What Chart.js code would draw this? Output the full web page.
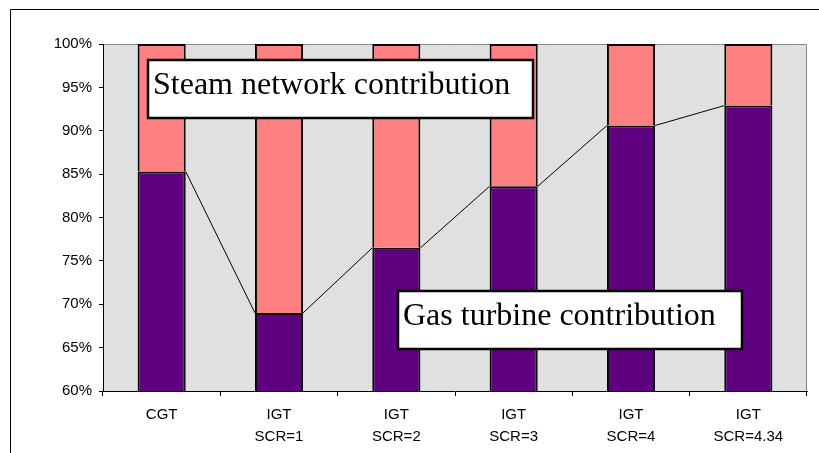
<!DOCTYPE html>
<html lang="en">
<head>
    <meta charset="UTF-8">
    <title>Gas turbine vs steam network contribution</title>
    <script src="https://cdn.jsdelivr.net/npm/chart.js"></script>
    <style>
        body { margin: 0; background: #fff; }
    </style>
</head>
<body>
    <canvas id="chart" width="819" height="453"></canvas>
    <script>
        const categories = [['CGT'], ['IGT', 'SCR=1'], ['IGT', 'SCR=2'], ['IGT', 'SCR=3'], ['IGT', 'SCR=4'], ['IGT', 'SCR=4.34']];
        const gasTurbine = [85.3, 69.0, 76.5, 83.6, 90.6, 92.9];
        const steamNetwork = [14.7, 31.0, 23.5, 16.4, 9.4, 7.1];
        const yTicks = [60, 65, 70, 75, 80, 85, 90, 95, 100];

        const sansFont = '"Liberation Sans", Arial, sans-serif';
        const serifFont = '"Liberation Serif", "Times New Roman", serif';

        // grey plot area + outer frame
        const background = {
            id: 'background',
            beforeDraw(chart) {
                const ctx = chart.ctx;
                const a = chart.chartArea;
                ctx.save();
                ctx.fillStyle = '#e0e0e0';
                ctx.fillRect(a.left, a.top, a.right - a.left, a.bottom - a.top);
                ctx.strokeStyle = '#888';
                ctx.lineWidth = 1;
                ctx.beginPath();
                ctx.moveTo(a.left, a.top + 0.5);
                ctx.lineTo(a.right - 0.5, a.top + 0.5);
                ctx.lineTo(a.right - 0.5, a.bottom);
                ctx.stroke();
                // outer frame (top and left edges only)
                ctx.strokeStyle = '#000';
                ctx.beginPath();
                ctx.moveTo(10.5, chart.height);
                ctx.lineTo(10.5, 9.5);
                ctx.lineTo(chart.width, 9.5);
                ctx.stroke();
                ctx.restore();
            }
        };

        // series lines joining tops of the gas turbine bars
        const seriesLines = {
            id: 'seriesLines',
            afterDatasetsDraw(chart) {
                const bars = chart.getDatasetMeta(0).data;
                const ctx = chart.ctx;
                ctx.save();
                ctx.strokeStyle = '#000';
                ctx.lineWidth = 1;
                ctx.beginPath();
                for (let i = 0; i < bars.length - 1; i++) {
                    const a = bars[i], b = bars[i + 1];
                    ctx.moveTo(a.x + a.width / 2, a.y);
                    ctx.lineTo(b.x - b.width / 2, b.y);
                }
                ctx.stroke();
                ctx.restore();
            }
        };

        function textBox(ctx, text, x, y, w, h) {
            ctx.fillStyle = '#fff';
            ctx.fillRect(x, y, w, h);
            ctx.strokeStyle = '#000';
            ctx.lineWidth = 2.5;
            ctx.strokeRect(x, y, w, h);
            ctx.fillStyle = '#000';
            ctx.font = '32px ' + serifFont;
            ctx.textBaseline = 'alphabetic';
            ctx.textAlign = 'left';
            ctx.fillText(text, x + 5, y + 34);
        }

        const labels = {
            id: 'labels',
            afterDraw(chart) {
                const ctx = chart.ctx;
                ctx.save();
                textBox(ctx, 'Steam network contribution', 148, 60, 385, 58);
                textBox(ctx, 'Gas turbine contribution', 398, 291, 344, 58);
                ctx.restore();
            }
        };

        new Chart(document.getElementById('chart'), {
            type: 'bar',
            data: {
                labels: categories,
                datasets: [
                    {
                        label: 'Gas turbine contribution',
                        data: gasTurbine,
                        backgroundColor: '#5f0080',
                        borderColor: '#000',
                        borderWidth: 2
                    },
                    {
                        label: 'Steam network contribution',
                        data: steamNetwork,
                        backgroundColor: '#ff8080',
                        borderColor: '#000',
                        borderWidth: 2
                    }
                ]
            },
            options: {
                responsive: false,
                animation: false,
                layout: { padding: { top: 44, right: 12, left: 0, bottom: 0 } },
                datasets: { bar: { barPercentage: 1, categoryPercentage: 0.41 } },
                plugins: { legend: { display: false }, tooltip: { enabled: false } },
                scales: {
                    x: {
                        stacked: true,
                        grid: { offset: true, drawOnChartArea: false, drawTicks: true, tickLength: 5, color: '#000' },
                        border: { color: '#000', width: 1 },
                        ticks: {
                            color: '#000',
                            font: { family: sansFont, size: 15, lineHeight: 1.45 },
                            padding: 8,
                            maxRotation: 0,
                            autoSkip: false
                        },
                        afterFit(s) { s.height = 62; }
                    },
                    y: {
                        stacked: true,
                        min: 60,
                        max: 100,
                        afterBuildTicks(s) { s.ticks = yTicks.map(v => ({ value: v })); },
                        grid: { drawOnChartArea: false, drawTicks: true, tickLength: 4, color: '#000' },
                        border: { color: '#000', width: 1 },
                        ticks: {
                            color: '#000',
                            font: { family: sansFont, size: 15 },
                            padding: 7,
                            callback: v => v + '%'
                        },
                        afterFit(s) { s.width = 103; }
                    }
                }
            },
            plugins: [background, seriesLines, labels]
        });
    </script>
</body>
</html>
